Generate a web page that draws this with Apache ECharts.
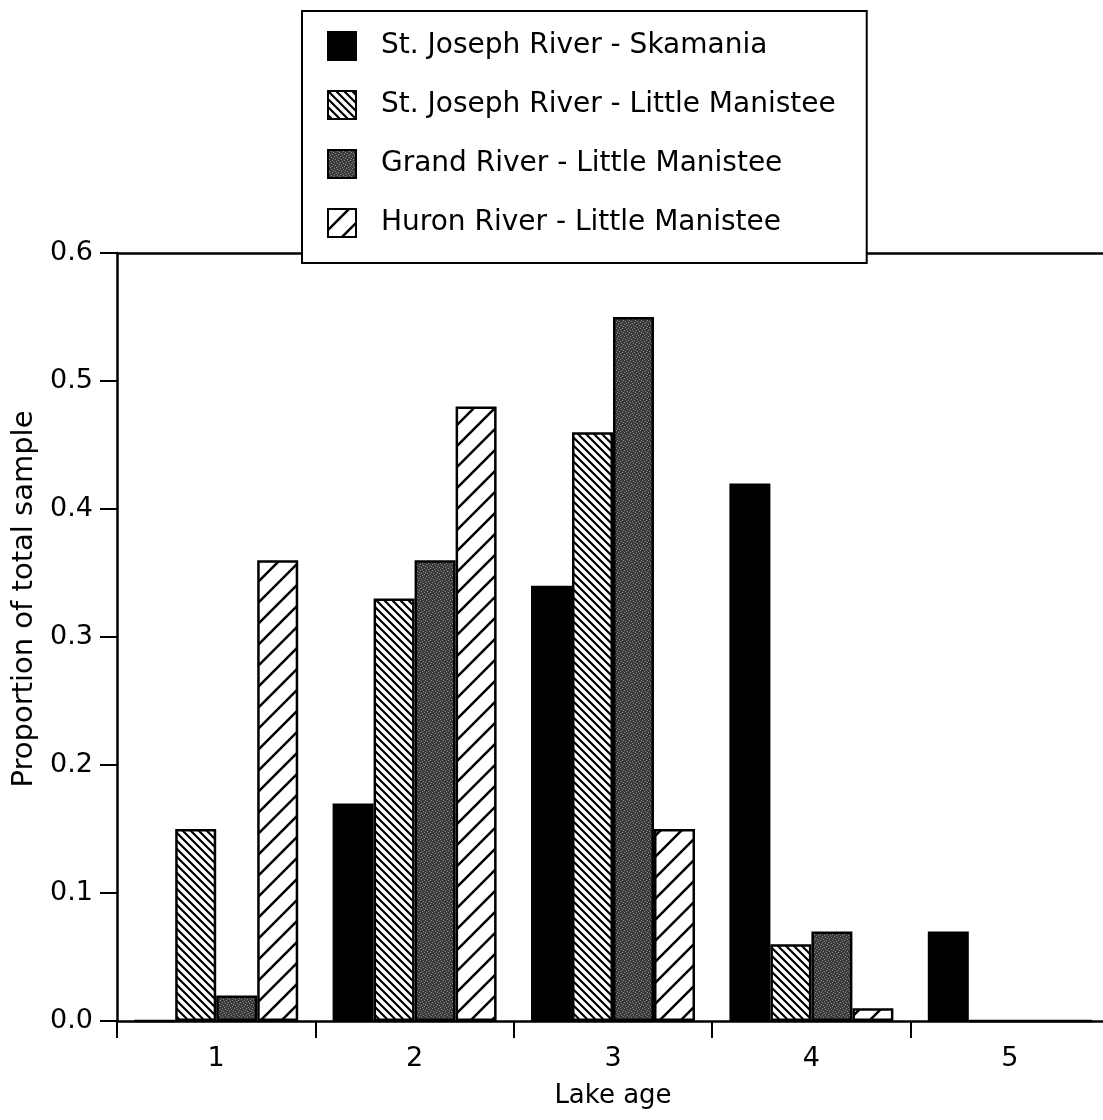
<!DOCTYPE html>
<html>
<head>
<meta charset="utf-8">
<script src="https://cdn.jsdelivr.net/npm/echarts@6/dist/echarts.min.js"></script>
<style>
  html, body { margin: 0; padding: 0; background: #fff; }
  #chart { width: 1103px; height: 1120px; }
</style>
</head>
<body>
<div id="chart"></div>
<script>
// data
var lakeAge = ['1', '2', '3', '4', '5'];
var seriesNames = [
  'St. Joseph River - Skamania',
  'St. Joseph River - Little Manistee',
  'Grand River - Little Manistee',
  'Huron River - Little Manistee'
];
var stJosephSkamania = [0, 0.17, 0.34, 0.42, 0.07];
var stJosephLittleManistee = [0.15, 0.33, 0.46, 0.06, 0];
var grandLittleManistee = [0.02, 0.36, 0.55, 0.07, 0];
var huronLittleManistee = [0.36, 0.48, 0.15, 0.01, 0];
var yTicks = [0, 0.1, 0.2, 0.3, 0.4, 0.5, 0.6];

var FONT = 'DejaVu Sans';

// fill patterns
function hatch(size, lw, forward) {
  var c = document.createElement('canvas');
  c.width = c.height = size;
  var ctx = c.getContext('2d');
  ctx.fillStyle = '#fff';
  ctx.fillRect(0, 0, size, size);
  ctx.strokeStyle = '#000';
  ctx.lineWidth = lw;
  ctx.beginPath();
  if (forward) {
    ctx.moveTo(-2, size + 2); ctx.lineTo(size + 2, -2);
    ctx.moveTo(-2, 2); ctx.lineTo(2, -2);
    ctx.moveTo(size - 2, size + 2); ctx.lineTo(size + 2, size - 2);
  } else {
    ctx.moveTo(-2, -2); ctx.lineTo(size + 2, size + 2);
    ctx.moveTo(size - 2, -2); ctx.lineTo(size + 2, 2);
    ctx.moveTo(-2, size - 2); ctx.lineTo(2, size + 2);
  }
  ctx.stroke();
  return { image: c, repeat: 'repeat' };
}

function stipple() {
  var c = document.createElement('canvas');
  c.width = c.height = 6;
  var ctx = c.getContext('2d');
  ctx.fillStyle = '#3a3a3a';
  ctx.fillRect(0, 0, 6, 6);
  ctx.fillStyle = '#8c8c8c';
  var dots = [[0, 0], [3, 1], [1, 3], [4, 4], [5, 2], [2, 5]];
  dots.forEach(function (d) { ctx.fillRect(d[0], d[1], 1, 1); });
  return { image: c, repeat: 'repeat' };
}

var fills = ['#000', hatch(8, 2.2, false), stipple(), hatch(21, 2.5, true)];
var values = [stJosephSkamania, stJosephLittleManistee, grandLittleManistee, huronLittleManistee];

var chart = echarts.init(document.getElementById('chart'));

chart.setOption({
  backgroundColor: '#fff',
  animation: false,
  textStyle: { fontFamily: FONT, color: '#000' },
  grid: {
    left: 117,
    top: 253,
    width: 992,
    height: 768,
    outerBoundsMode: 'none'
  },
  legend: {
    orient: 'vertical',
    left: 302,
    top: 11,
    padding: [20, 31, 25, 25],
    itemWidth: 28,
    itemHeight: 28,
    itemGap: 29,
    icon: 'rect',
    backgroundColor: '#fff',
    borderColor: '#000',
    borderWidth: 2,
    z: 10,
    data: seriesNames,
    textStyle: {
      fontFamily: FONT,
      fontSize: 28,
      color: '#000',
      padding: [0, 0, 0, 20]
    }
  },
  xAxis: [{
    type: 'category',
    data: lakeAge,
    name: 'Lake age',
    nameLocation: 'middle',
    nameGap: 62,
    nameTextStyle: { fontFamily: FONT, fontSize: 26, color: '#000' },
    axisLine: { lineStyle: { color: '#000', width: 2.5 } },
    axisTick: { show: true, length: 17, lineStyle: { color: '#000', width: 2 } },
    axisLabel: { margin: 24, fontFamily: FONT, fontSize: 27, color: '#000' }
  }, {
    // top frame line only
    type: 'category',
    data: lakeAge,
    position: 'top',
    axisLine: { show: true, lineStyle: { color: '#000', width: 2.5 } },
    axisTick: { show: false },
    axisLabel: { show: false }
  }],
  yAxis: {
    type: 'value',
    min: yTicks[0],
    max: yTicks[yTicks.length - 1],
    interval: 0.1,
    name: 'Proportion of total sample',
    nameLocation: 'middle',
    nameGap: 78,
    nameTextStyle: {
      fontFamily: FONT,
      fontSize: 29,
      color: '#000',
      padding: [0, 0, 0, 76]
    },
    axisLine: { show: true, lineStyle: { color: '#000', width: 2.5 } },
    axisTick: { show: true, length: 17, lineStyle: { color: '#000', width: 2 } },
    axisLabel: {
      margin: 24,
      fontFamily: FONT,
      fontSize: 27,
      color: '#000',
      formatter: function (v) { return v.toFixed(1); }
    },
    splitLine: { show: false }
  },
  series: seriesNames.map(function (name, i) {
    return {
      name: name,
      type: 'bar',
      data: values[i],
      barWidth: 41,
      barGap: '0%',
      itemStyle: {
        color: fills[i],
        borderColor: '#000',
        borderWidth: 2.5
      }
    };
  })
});
</script>
</body>
</html>
